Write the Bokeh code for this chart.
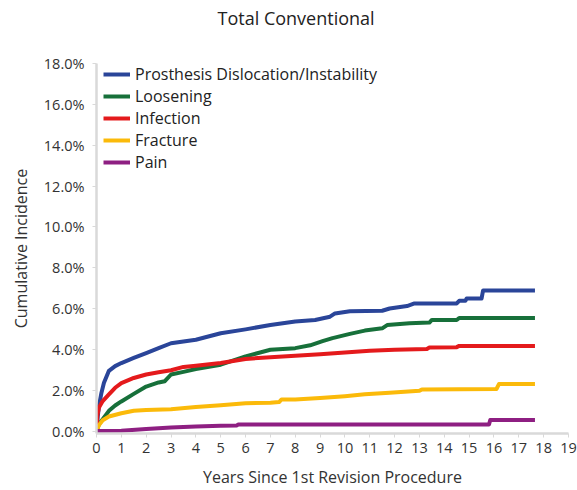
from bokeh.plotting import figure
from bokeh.models import (Range1d, FixedTicker, PrintfTickFormatter, Legend,
                          LegendItem, LinearAxis, Title)
from bokeh.embed import file_html
from bokeh.resources import INLINE

# ---------------- data (cumulative incidence, %) ----------------
chart_title = "Total Conventional"
series_names = ["Prosthesis Dislocation/Instability", "Loosening", "Infection",
                "Fracture", "Pain"]

years_dislocation = [0, 0.05, 0.1, 0.2, 0.3, 0.5, 0.75, 1, 1.5, 2, 2.5, 3, 3.5, 4,
                     5, 6, 7, 8, 8.8, 9.4, 9.6, 10.2, 11.5, 11.8, 12.5, 12.8,
                     14.5, 14.6, 14.85, 14.9, 15.5, 15.56, 17.65]
pct_dislocation = [0, 0.7, 1.23, 1.88, 2.36, 2.95, 3.18, 3.33, 3.58, 3.82, 4.06,
                   4.3, 4.39, 4.47, 4.79, 4.98, 5.19, 5.36, 5.44, 5.6, 5.76, 5.87,
                   5.89, 6.0, 6.12, 6.25, 6.25, 6.38, 6.38, 6.49, 6.49, 6.88, 6.88]

years_loosening = [0, 0.1, 0.25, 0.5, 0.75, 1, 1.5, 2, 2.5, 2.75, 3, 3.5, 4, 5, 6,
                   7, 8, 8.6, 9.1, 9.5, 10.2, 10.8, 11.5, 11.7, 12.6, 13.4, 13.5,
                   14.5, 14.6, 17.65]
pct_loosening = [0, 0.34, 0.58, 0.99, 1.25, 1.45, 1.82, 2.18, 2.38, 2.44, 2.77,
                 2.9, 3.04, 3.25, 3.66, 3.98, 4.06, 4.2, 4.4, 4.55, 4.76, 4.92,
                 5.03, 5.19, 5.28, 5.31, 5.44, 5.44, 5.54, 5.54]

years_infection = [0, 0.03, 0.1, 0.25, 0.5, 0.75, 1, 1.5, 2, 2.5, 3, 3.5, 4, 5, 6,
                   7, 8, 9, 10, 11, 12, 13.3, 13.4, 14.5, 14.6, 17.65]
pct_infection = [0, 0.74, 1.15, 1.47, 1.8, 2.12, 2.35, 2.6, 2.77, 2.88, 2.98,
                 3.14, 3.2, 3.33, 3.53, 3.62, 3.69, 3.76, 3.85, 3.93, 3.98, 4.02,
                 4.09, 4.11, 4.17, 4.17]

years_fracture = [0, 0.1, 0.25, 0.5, 1, 1.5, 2, 3, 4, 5, 6, 7, 7.35, 7.45, 8, 9,
                  10, 10.8, 11.8, 13, 13.1, 16.1, 16.2, 17.65]
pct_fracture = [0, 0.29, 0.53, 0.71, 0.87, 0.99, 1.03, 1.07, 1.18, 1.26, 1.36,
                1.39, 1.42, 1.55, 1.55, 1.62, 1.71, 1.8, 1.88, 1.97, 2.04, 2.06,
                2.3, 2.3]

years_pain = [0, 1, 2, 3, 4, 5, 5.65, 5.7, 15.8, 15.85, 17.65]
pct_pain = [0, 0.02, 0.1, 0.17, 0.22, 0.26, 0.27, 0.32, 0.32, 0.54, 0.54]

x_ticks = list(range(0, 20))
y_ticks = [0, 2, 4, 6, 8, 10, 12, 14, 16, 18]

colors = ["#2A4599", "#17703A", "#E41A1C", "#FBBA0A", "#8E1F82"]

FONT = "Open Sans"
TXT = "#333333"

p = figure(width=577, height=490, output_backend="svg", toolbar_location=None,
           x_range=Range1d(0, 19), y_range=Range1d(-0.12, 18),
           min_border_left=96, min_border_right=9, min_border_top=63,
           min_border_bottom=57)
p.outline_line_color = None
p.xgrid.visible = False
p.ygrid.visible = False
p.background_fill_color = "white"
p.border_fill_color = "white"

data = [(years_dislocation, pct_dislocation), (years_loosening, pct_loosening),
        (years_infection, pct_infection), (years_fracture, pct_fracture),
        (years_pain, pct_pain)]
items = []
for (xs, ys), name, c in zip(data, series_names, colors):
    r = p.line(xs, ys, line_color=c, line_width=4, line_join="round")
    items.append(LegendItem(label=name, renderers=[r]))

# axes
for ax in (p.xaxis[0], p.yaxis[0]):
    ax.axis_line_color = "#d9d9d9"
    ax.axis_line_width = 2.5
    ax.major_tick_line_color = "#d9d9d9"
    ax.major_tick_line_width = 1
    ax.major_tick_in = 0
    ax.major_tick_out = 4
    ax.minor_tick_line_color = None
    ax.major_label_text_font = FONT
    ax.major_label_text_font_size = "14.5px"
    ax.major_label_text_color = TXT
    ax.axis_label_text_font = FONT
    ax.axis_label_text_font_size = "16px"
    ax.axis_label_text_font_style = "normal"
    ax.axis_label_text_color = TXT

p.xaxis.ticker = FixedTicker(ticks=x_ticks)
p.yaxis.ticker = FixedTicker(ticks=y_ticks)
p.yaxis.formatter = PrintfTickFormatter(format="%.1f%%")
p.xaxis.axis_label = "Years Since 1st Revision Procedure"
p.yaxis.axis_label = "Cumulative Incidence"
p.xaxis.major_label_standoff = 5
p.xaxis.axis_label_standoff = 10
p.yaxis.major_label_standoff = 8
p.yaxis.axis_label_standoff = 9

# invisible spacer between the plot area and the title (added first = innermost):
# one hidden tick whose length reserves the gap
spacer_axis = LinearAxis(ticker=FixedTicker(ticks=[0]), axis_line_color=None,
                         major_tick_line_color=None, minor_tick_line_color=None,
                         major_tick_in=0, major_tick_out=34,
                         major_label_standoff=0,
                         major_label_text_font_size="0px",
                         major_label_text_alpha=0)
p.add_layout(spacer_axis, "above")

title = Title(text=chart_title, align="left", offset=121, standoff=0,
              text_font=FONT, text_font_size="18px", text_font_style="normal",
              text_color="#222222")
p.add_layout(title, "above")

legend = Legend(items=items, location=(7, 260), margin=0, padding=0,
                spacing=0, glyph_width=27, glyph_height=22, label_height=22,
                label_standoff=5, label_text_font=FONT,
                label_text_font_size="16px", label_text_color="#222222",
                background_fill_alpha=0, border_line_color=None)
p.add_layout(legend)

open("out.html", "w").write(file_html(p, INLINE))
